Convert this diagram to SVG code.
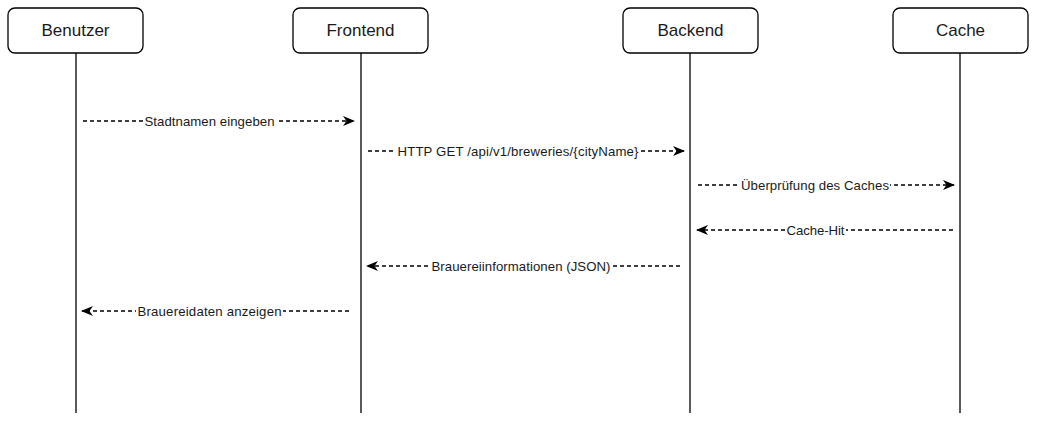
<svg xmlns="http://www.w3.org/2000/svg" width="1037" height="423" viewBox="0 0 1037 423">
<style>
.box{fill:#fff;stroke:#000;stroke-width:1.3}
.life{stroke:#000;stroke-width:1.3;fill:none}
.name{font-family:"Liberation Sans",Arial,sans-serif;font-size:17px;fill:#1a1a1a;text-anchor:middle}
.msg{stroke:#000;stroke-width:1.3;stroke-dasharray:4,3;fill:none}
.lbl{font-family:"Liberation Sans",Arial,sans-serif;font-size:13.2px;fill:#1a1a1a;text-anchor:middle}
.bg{fill:#fff}
</style>
<defs>
<marker id="ah" viewBox="0 0 12 11" refX="11" refY="5.5" markerWidth="12" markerHeight="11" markerUnits="userSpaceOnUse" orient="auto">
<path d="M0,0.5 L12,5.5 L0,10.5 L3.5,5.5 Z" fill="#000"/>
</marker>
</defs>
<g id="benutzer">
<line class="life" x1="76" y1="53" x2="76" y2="413"/>
<rect class="box" x="8" y="8" width="135" height="45" rx="7"/>
<text class="name" x="75.5" y="36">Benutzer</text>
</g>
<g id="frontend">
<line class="life" x1="361" y1="53" x2="361" y2="413"/>
<rect class="box" x="293" y="8" width="135" height="45" rx="7"/>
<text class="name" x="360.5" y="36">Frontend</text>
</g>
<g id="backend">
<line class="life" x1="690" y1="53" x2="690" y2="413"/>
<rect class="box" x="623" y="8" width="135" height="45" rx="7"/>
<text class="name" x="690.5" y="36">Backend</text>
</g>
<g id="cache">
<line class="life" x1="960" y1="53" x2="960" y2="413"/>
<rect class="box" x="893" y="8" width="135" height="45" rx="7"/>
<text class="name" x="960.5" y="36">Cache</text>
</g>
<g id="connectors">
<line class="msg" x1="83" y1="121" x2="354" y2="121" marker-end="url(#ah)"/>
<rect class="bg" x="143" y="114" width="133" height="14"/>
<text class="lbl" x="209.5" y="125.5" textLength="130">Stadtnamen eingeben</text>

<line class="msg" x1="368" y1="151" x2="684" y2="151" marker-end="url(#ah)"/>
<rect class="bg" x="396" y="144" width="244" height="14"/>
<text class="lbl" x="518" y="155.5" textLength="241">HTTP GET /api/v1/breweries/{cityName}</text>

<line class="msg" x1="698" y1="185" x2="954" y2="185" marker-end="url(#ah)"/>
<rect class="bg" x="739" y="178" width="151" height="14"/>
<text class="lbl" x="815" y="189.5" textLength="148">Überprüfung des Caches</text>

<line class="msg" x1="953" y1="230" x2="697" y2="230" marker-end="url(#ah)"/>
<rect class="bg" x="785" y="223" width="61" height="14"/>
<text class="lbl" x="815.5" y="234.5" textLength="58">Cache-Hit</text>

<line class="msg" x1="680" y1="266" x2="367" y2="266" marker-end="url(#ah)"/>
<rect class="bg" x="430" y="259" width="182" height="14"/>
<text class="lbl" x="521" y="270.5" textLength="179">Brauereiinformationen (JSON)</text>

<line class="msg" x1="349" y1="311" x2="82" y2="311" marker-end="url(#ah)"/>
<rect class="bg" x="136" y="304" width="147" height="14"/>
<text class="lbl" x="209.5" y="315.5" textLength="144">Brauereidaten anzeigen</text>
</g>
</svg>
